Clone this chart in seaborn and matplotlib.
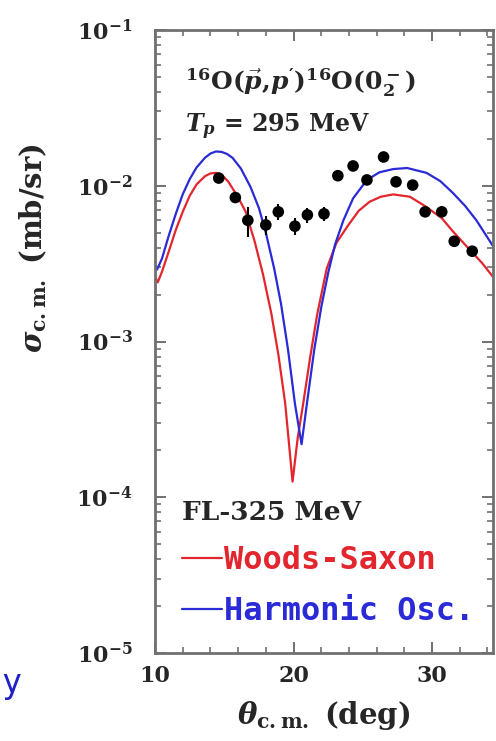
import math
import matplotlib
matplotlib.use("Agg")
import matplotlib.pyplot as plt
import seaborn as sns
from matplotlib.ticker import LogLocator, MultipleLocator, FuncFormatter, NullFormatter

# Woods-Saxon curve
ws_theta = [10.0, 10.2, 10.5, 11.0, 11.5, 12.0, 12.5, 13.0, 13.6, 14.0, 14.4, 14.8,
            15.3, 15.8, 16.2, 16.55, 17.2, 17.8, 18.4, 18.9, 19.4, 19.93, 20.3, 20.7,
            21.2, 21.7, 22.4, 23.1, 23.9, 24.7, 25.5, 26.3, 27.2, 28.4, 29.5, 30.7,
            31.5, 32.7, 33.6, 34.4]
ws_sigma = [0.0026, 0.0024, 0.0028, 0.0038, 0.0052, 0.0068, 0.0086, 0.0102, 0.0115,
            0.0120, 0.0121, 0.0118, 0.0106, 0.0090, 0.0078, 0.0068, 0.00437, 0.00269,
            0.00151, 0.00083, 0.00040, 0.000126, 0.00024, 0.00040, 0.00079, 0.00148,
            0.00295, 0.0043, 0.0055, 0.0069, 0.0079, 0.0085, 0.0088, 0.0085, 0.0074,
            0.0062, 0.0051, 0.0039, 0.0032, 0.0026]

# Harmonic oscillator curve
ho_theta = [10.0, 10.15, 10.5, 11.0, 11.5, 12.0, 12.5, 13.0, 13.6, 14.0, 14.4, 14.8,
            15.2, 15.6, 16.2, 16.9, 17.5, 18.0, 18.6, 19.1, 19.6, 20.1, 20.58, 21.0,
            21.5, 22.0, 22.5, 23.0, 23.6, 24.3, 25.3, 26.2, 27.2, 28.2, 29.6, 30.6,
            31.5, 32.4, 33.2, 34.4]
ho_sigma = [0.0031, 0.0029, 0.0034, 0.0048, 0.0066, 0.0088, 0.0110, 0.0131, 0.0151,
            0.0161, 0.0166, 0.0165, 0.0160, 0.0151, 0.0129, 0.0098, 0.0072, 0.0050,
            0.00295, 0.00174, 0.00089, 0.00040, 0.000219, 0.00042, 0.00089, 0.00166,
            0.00275, 0.0042, 0.0060, 0.0083, 0.0109, 0.0122, 0.0128, 0.0130, 0.0121,
            0.0107, 0.0090, 0.0074, 0.0060, 0.0041]

# measured points
exp_theta = [14.6, 15.8, 16.7, 18.0, 18.9, 20.1, 21.0, 22.2, 23.2, 24.3, 25.3, 26.5,
             27.4, 28.6, 29.5, 30.7, 31.6, 32.9]
exp_sigma = [0.0112, 0.0084, 0.0060, 0.0056, 0.0068, 0.0055, 0.0065, 0.0066, 0.0116,
             0.0134, 0.0109, 0.0153, 0.0106, 0.0101, 0.0068, 0.0068, 0.0044, 0.0038]
exp_err = [0.0006, 0.0007, 0.0013, 0.0008, 0.0008, 0.0007, 0.0007, 0.0007, 0.0006,
           0.0007, 0.0006, 0.0008, 0.0006, 0.0006, 0.0004, 0.0004, 0.0003, 0.0003]

red = '#e3262e'
blue = '#2a2ad6'
frame = '#707070'

sns.set_theme(style="ticks")
plt.rcParams['font.family'] = ['DejaVu Serif']
plt.rcParams['font.weight'] = 'bold'
plt.rcParams['mathtext.fontset'] = 'custom'
plt.rcParams['mathtext.rm'] = 'DejaVu Serif:bold'
plt.rcParams['mathtext.bf'] = 'DejaVu Serif:bold'
plt.rcParams['mathtext.it'] = 'DejaVu Serif:italic:bold'

fig = plt.figure(figsize=(4.96, 7.41), dpi=100)
ax = fig.add_axes([155 / 496, 1 - 653 / 741, 338 / 496, 623 / 741])

sns.lineplot(x=ws_theta, y=ws_sigma, color=red, lw=1.6, sort=False, estimator=None,
             ax=ax, label='Woods-Saxon')
sns.lineplot(x=ho_theta, y=ho_sigma, color=blue, lw=1.6, sort=False, estimator=None,
             ax=ax, label='Harmonic Osc.')
ax.errorbar(exp_theta, exp_sigma, yerr=exp_err, fmt='none', ecolor='black', elinewidth=1.5,
            capsize=0, zorder=4)
sns.scatterplot(x=exp_theta, y=exp_sigma, color='black', s=70, edgecolor='none', ax=ax,
                zorder=5)

ax.set_yscale('log')
ax.set_xlim(10, 34.4)
ax.set_ylim(1e-5, 1e-1)

ax.xaxis.set_major_locator(MultipleLocator(10))
ax.xaxis.set_minor_locator(MultipleLocator(2))
ax.yaxis.set_major_locator(LogLocator(base=10, numticks=10))
ax.yaxis.set_minor_locator(LogLocator(base=10, subs=range(2, 10), numticks=20))
ax.yaxis.set_minor_formatter(NullFormatter())
ax.yaxis.set_major_formatter(FuncFormatter(lambda v, p: r'$\mathbf{10^{%d}}$' % round(math.log10(v))))

ax.tick_params(which='both', direction='in', top=True, right=True, color=frame)
ax.tick_params(which='major', length=8, width=1.4, labelsize=16)
ax.tick_params(which='minor', length=4, width=1.2)
ax.tick_params(axis='x', which='major', pad=9)
ax.tick_params(axis='y', which='major', pad=16)
for lab in ax.get_xticklabels():
    lab.set_fontweight('bold')
for s in ax.spines.values():
    s.set_color(frame)
    s.set_linewidth(2)

ax.set_xlabel(r'$\theta_{\rm c.m.}$ (deg)', fontsize=21, fontweight='bold', labelpad=8)
ax.set_ylabel('')
fig.text(33 / 496, 1 - 248 / 741, r'$\sigma_{\rm c.m.}$ (mb/sr)', rotation=90, ha='center',
         va='center', fontsize=21, fontweight='bold')

ax.text(0.09, 0.915, r"$^{16}$O($\vec{p}$,$p'$)$^{16}$O($0_2^-$)", transform=ax.transAxes,
        fontsize=18, fontweight='bold', va='center')
ax.text(0.09, 0.845, r"$T_p$ = 295 MeV", transform=ax.transAxes, fontsize=17,
        fontweight='bold', va='center')

leg = ax.legend(loc='upper left', bbox_to_anchor=(0.08, 0.245), frameon=False,
                title='FL-325 MeV', alignment='left', handlelength=1.25, handletextpad=0.05,
                labelspacing=0.62, borderaxespad=0, borderpad=0,
                prop={'family': 'DejaVu Sans Mono', 'weight': 'bold', 'size': 23})
leg.get_title().set_fontsize(19)
leg.get_title().set_fontweight('bold')
for t, c in zip(leg.get_texts(), [red, blue]):
    t.set_color(c)

fig.text(11 / 496, 1 - 684 / 741, 'y', color='#2020c8', fontsize=24, family='DejaVu Sans Mono',
         fontweight='normal', ha='center', va='center')

fig.savefig('out.png', dpi=100)
